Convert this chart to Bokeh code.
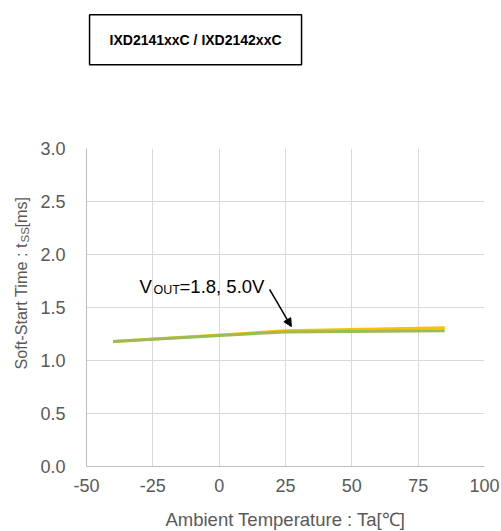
import math
from bokeh.plotting import figure
from bokeh.models import Range1d, FixedTicker, Label, Arrow, NormalHead, NumeralTickFormatter
from bokeh.embed import file_html
from bokeh.resources import INLINE

# ---- data ----
title_text = "IXD2141xxC / IXD2142xxC"
temperature = [-40, 25, 85]
tss_vout_18 = [1.18, 1.28, 1.31]
tss_vout_50 = [1.18, 1.27, 1.28]
x_ticks = [-50, -25, 0, 25, 50, 75, 100]
y_ticks = [0.0, 0.5, 1.0, 1.5, 2.0, 2.5, 3.0]

FONT = "Liberation Sans"
GREY = "#595959"

p = figure(width=499, height=540, output_backend="svg", toolbar_location=None,
           x_range=Range1d(-50, 100), y_range=Range1d(0, 3.0),
           frame_width=398, frame_height=318,
           min_border_left=86, min_border_top=148, min_border_right=15,
           min_border_bottom=74)
p.outline_line_color = None
p.background_fill_color = "white"

for ax in (p.xaxis[0], p.yaxis[0]):
    ax.major_tick_line_color = None
    ax.minor_tick_line_color = None
    ax.axis_line_color = "#bfbfbf"
    ax.major_label_text_font = FONT
    ax.major_label_text_font_size = "18px"
    ax.major_label_text_color = GREY
p.xaxis.ticker = FixedTicker(ticks=x_ticks)
p.yaxis.ticker = FixedTicker(ticks=y_ticks)
p.xaxis.formatter = NumeralTickFormatter(format="0")
p.yaxis.formatter = NumeralTickFormatter(format="0.0")
p.yaxis.major_label_standoff = 15
p.xaxis.major_label_standoff = 6
p.xaxis.axis_label = "Ambient Temperature : Ta[℃]"
p.xaxis.axis_label_text_font = FONT
p.xaxis.axis_label_text_font_size = "18.5px"
p.xaxis.axis_label_text_font_style = "normal"
p.xaxis.axis_label_text_color = GREY
p.xaxis.axis_label_standoff = 14

p.xgrid.ticker = FixedTicker(ticks=x_ticks)
p.ygrid.ticker = FixedTicker(ticks=y_ticks)
p.xgrid.grid_line_color = "#d9d9d9"
p.ygrid.grid_line_color = "#d9d9d9"

p.line(temperature, tss_vout_18, line_color="#FFC000", line_width=3)
p.line(temperature, tss_vout_50, line_color="#9BBB59", line_width=3)

# y-axis title built from pieces (subscript)
ylab_kw = dict(x=-50, y=0.915, x_units="data", y_units="data", angle=math.pi / 2,
               text_font=FONT, text_color=GREY, text_align="left", text_baseline="alphabetic")
p.add_layout(Label(text="Soft-Start Time : t", x_offset=-66, text_font_size="16.2px", **ylab_kw), "left")
p.add_layout(Label(text="SS", x_offset=-62, y_offset=127, text_font_size="11.5px", **ylab_kw), "above")
p.add_layout(Label(text="[ms]", x_offset=-66, y_offset=142, text_font_size="16.2px", **ylab_kw), "above")

# annotation
ann_kw = dict(y=1.70, text_font=FONT, text_color="black", text_align="left",
              text_baseline="alphabetic")
p.add_layout(Label(x=-30, text="V", text_font_size="18.5px", **ann_kw))
p.add_layout(Label(x=-30, text="OUT", x_offset=14, y_offset=-4, text_font_size="12.5px", **ann_kw))
p.add_layout(Label(x=-30, text="=1.8, 5.0V", x_offset=40, text_font_size="18.5px", **ann_kw))
p.add_layout(Arrow(x_start=19.0, y_start=1.67, x_end=27.2, y_end=1.32, line_color="black",
                   line_width=1.5,
                   end=NormalHead(size=8, fill_color="black", line_color="black")))

# boxed title
p.add_layout(Label(x=-8.9, y=4.027, text=title_text, text_font=FONT, text_font_size="14px",
                   text_font_style="bold", text_color="black", text_align="center",
                   text_baseline="middle",
                   background_fill_color="white", border_line_color="black",
                   border_line_width=1.5,
                   padding=dict(left=20, right=20, top=17, bottom=17)), "above")

open("out.html", "w").write(file_html(p, INLINE))
